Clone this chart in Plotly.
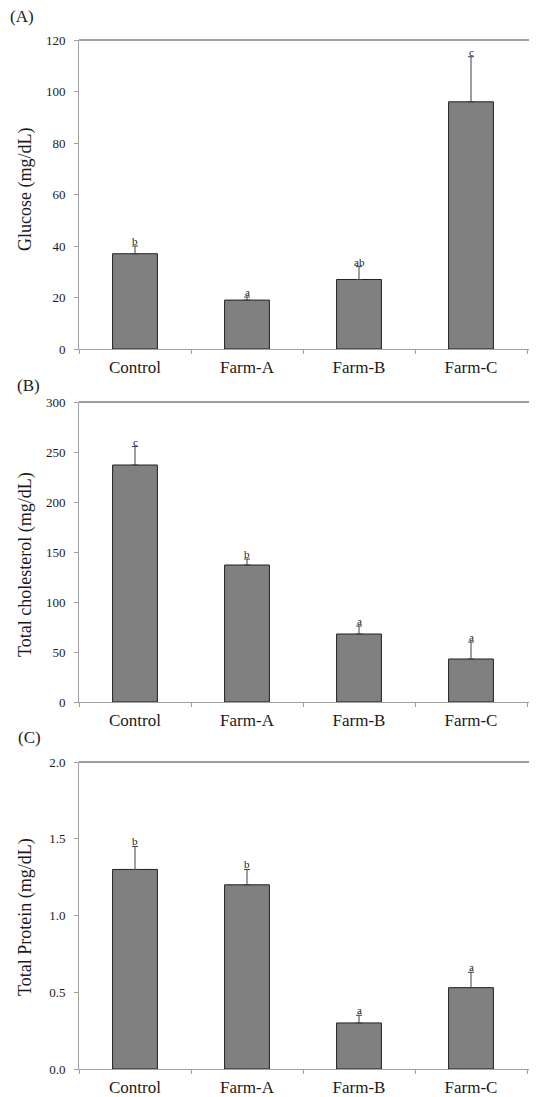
import plotly.graph_objects as go

categories = ["Control", "Farm-A", "Farm-B", "Farm-C"]

glucose = [37, 19, 27, 96]
glucose_err = [3, 1.2, 5, 17.5]
glucose_letters = ["b", "a", "ab", "c"]

cholesterol = [237, 137, 68, 43]
cholesterol_err = [18.5, 6, 8, 17]
cholesterol_letters = ["c", "b", "a", "a"]

protein = [1.30, 1.20, 0.30, 0.53]
protein_err = [0.15, 0.10, 0.05, 0.10]
protein_letters = ["b", "b", "a", "a"]

FONT = "Liberation Serif, Times New Roman, serif"
# page body has an 8px margin; figure is sized so it ends at the window edge
OFF = 8
W, H = 537 - OFF, 1097 - OFF
ML, MR, MT, MB = 79 - OFF, 0, 40 - OFF, 1097 - 1069
pw = W - ML - MR
ph = H - MT - MB


def ydom(top_px, bot_px):
    # reference pixel rows -> paper fractions
    return [(1069 - bot_px) / ph, (1069 - top_px) / ph]


panels = [
    dict(vals=glucose, err=glucose_err, letters=glucose_letters, title="Glucose (mg/dL)",
         label="(A)", yrange=[0, 120], dtick=20, fmt="d", domain=ydom(40, 349),
         lab=(8, 17), title_y=190),
    dict(vals=cholesterol, err=cholesterol_err, letters=cholesterol_letters,
         title="Total cholesterol (mg/dL)", label="(B)", yrange=[0, 300], dtick=50, fmt="d",
         domain=ydom(402, 702), lab=(15, 385), title_y=565),
    dict(vals=protein, err=protein_err, letters=protein_letters, title="Total Protein (mg/dL)",
         label="(C)", yrange=[0, 2.0], dtick=0.5, fmt=".1f", domain=ydom(762, 1069),
         lab=(16, 737), title_y=917),
]

fig = go.Figure()
layout = dict(
    width=W, height=H, margin=dict(l=ML, r=MR, t=MT, b=MB),
    paper_bgcolor="white", plot_bgcolor="white", showlegend=False,
    font=dict(family=FONT, color="#1a1a1a"),
)
annotations = []
shapes = []
for i, p in enumerate(panels):
    n = "" if i == 0 else str(i + 1)
    xa = "x" + n
    ya = "y" + n
    fig.add_trace(go.Bar(
        x=categories, y=p["vals"], width=0.4,
        marker=dict(color="#808080", line=dict(color="#202020", width=1)),
        error_y=dict(type="data", array=p["err"], arrayminus=[0] * 4, symmetric=False,
                     color="#404040", thickness=1, width=3),
        xaxis=xa, yaxis=ya,
    ))
    layout["xaxis" + n] = dict(
        domain=[0, 1], anchor=ya, type="category", range=[-0.5, 3.5 + 10 / 112],
        tickson="boundaries", ticks="outside", ticklen=4, tickcolor="#a0a0a0",
        showline=True, linecolor="#a0a0a0", linewidth=1, showgrid=False,
        tickfont=dict(family=FONT, size=17, color="#1a1a1a"), ticklabelstandoff=3,
        fixedrange=True,
    )
    layout["yaxis" + n] = dict(
        domain=p["domain"], anchor=xa, range=p["yrange"], dtick=p["dtick"], tickformat=p["fmt"],
        ticks="outside", ticklen=4, tickcolor="#a0a0a0", showline=True, linecolor="#a0a0a0",
        linewidth=1, showgrid=False, zeroline=False,
        tickfont=dict(family=FONT, size=13, color="#1a1a1a"), ticklabelstandoff=6,
    )
    top = p["domain"][1]
    shapes.append(dict(type="line", xref="paper", yref="paper", x0=0, x1=1.02, y0=top, y1=top,
                       line=dict(color="#404040", width=1)))
    for c, v, e, l in zip(categories, p["vals"], p["err"], p["letters"]):
        annotations.append(dict(x=c, y=v + e, xref=xa, yref=ya, text=l, showarrow=False,
                                yanchor="bottom", yshift=-3,
                                font=dict(family=FONT, size=11, color="#1a1a1a")))
    annotations.append(dict(x=(25 - 79) / pw, y=(1069 - p["title_y"]) / ph, xref="paper",
                            yref="paper", text=p["title"], textangle=-90, showarrow=False,
                            xanchor="center", yanchor="middle",
                            font=dict(family=FONT, size=18, color="#1a1a1a")))
    lx, ly = p["lab"]
    annotations.append(dict(x=(lx - 79) / pw, y=(1069 - ly) / ph, xref="paper", yref="paper",
                            text=p["label"], showarrow=False, xanchor="left", yanchor="middle",
                            font=dict(family=FONT, size=17, color="#1a1a1a")))

layout["annotations"] = annotations
layout["shapes"] = shapes
fig.update_layout(**layout)
fig.write_html("out.html")
